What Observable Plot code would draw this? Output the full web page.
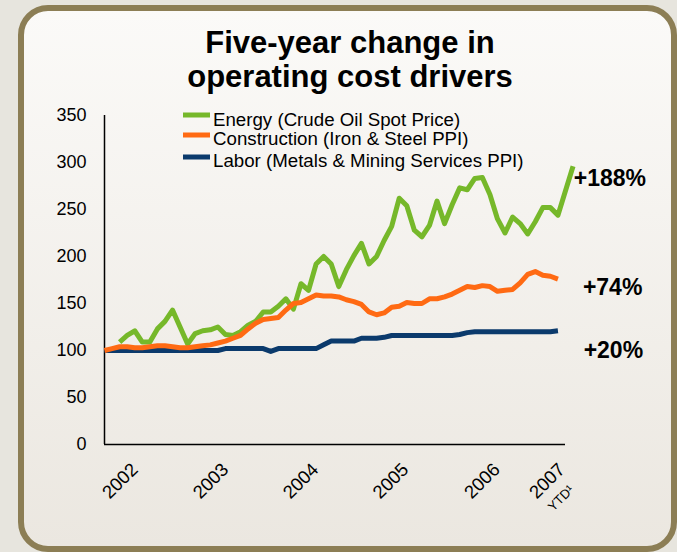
<!DOCTYPE html>
<html><head><meta charset="utf-8">
<script src="https://cdn.jsdelivr.net/npm/d3@7"></script>
<script src="https://cdn.jsdelivr.net/npm/@observablehq/plot@0.6"></script>
<style>
html,body{margin:0;padding:0;}
body{width:677px;height:552px;background:#e7e5de;position:relative;overflow:hidden;font-family:"Liberation Sans",Arial,sans-serif;}
#panel{position:absolute;left:18px;top:5px;width:647px;height:535px;border:6px solid #8c7e55;border-radius:30px;background:linear-gradient(#fbfaf8,#ebe7e0);}
#chart,#overlay{position:absolute;left:0;top:0;}
</style></head><body>
<div id="panel"></div>
<div id="chart"></div>
<svg id="overlay" width="677" height="552"></svg>
<script>
// Title and legend
const titleLines = ["Five-year change in", "operating cost drivers"];
const seriesNames = ["Energy (Crude Oil Spot Price)", "Construction (Iron & Steel PPI)", "Labor (Metals & Mining Services PPI)"];
const seriesColors = ["#76b82a", "#ff6a13", "#0b3a6c"];

// Month index 0 = start of 2002 series (monthly)
const energyStart = 2;
const energy = [109,116,121,109,109,123,131,143,125,107,118,121,122,125,117,116,120,127,131,141,141,147,155,144,171,164,192,200,192,168,186,201,214,192,200,217,232,262,254,228,221,233,259,235,255,273,271,283,284,266,240,225,242,235,224,237,252,252,244,270,296];
const construction = [100,102,104,104,103,103,104,105,105,104,103,103,104,105,106,108,110,113,116,123,129,133,134,135,143,150,151,155,159,158,158,157,154,152,149,141,138,140,146,147,151,150,150,155,155,157,160,164,168,167,169,168,163,164,165,172,181,184,180,179,176];
const labor = [100,100,100,100,100,100,100,100,100,100,100,100,100,100,100,100,102,102,102,102,102,102,99,102,102,102,102,102,102,106,110,110,110,110,113,113,113,114,116,116,116,116,116,116,116,116,116,117,119,120,120,120,120,120,120,120,120,120,120,120,121];

const yTicks = [0,50,100,150,200,250,300,350];
const yearLabels = ["2002","2003","2004","2005","2006","2007"];
const yearTickMonths = [4.0,16.0,27.9,39.8,51.9,60.5];
const ytdLabel = "YTD\u00B9";
const changeLabels = ["+188%","+74%","+20%"];
const changeLabelMonths = [62.1,63.3,63.4];
const changeLabelValues = [283,167,100];

const rows = [
  ...energy.map((v,i)=>({m:i+energyStart, v, s:seriesNames[0]})),
  ...labor.map((v,i)=>({m:i, v, s:seriesNames[2]})),
  ...construction.map((v,i)=>({m:i, v, s:seriesNames[1]}))
];

const chart = Plot.plot({
  width: 677, height: 552,
  marginLeft: 104, marginRight: 112, marginTop: 115, marginBottom: 108,
  style: {background: "transparent", color: "#000", fontFamily: "'Liberation Sans', Arial, sans-serif"},
  x: {domain: [0, 61], axis: null},
  y: {domain: [0, 350], axis: null},
  color: {domain: seriesNames, range: seriesColors},
  marks: [
    Plot.axisY({ticks: yTicks, tickSize: 0, tickPadding: 18, fontSize: 18, label: null, tickFormat: d=>String(d)}),
    Plot.ruleX([0], {stroke: "#000", strokeWidth: 1.5}),
    Plot.ruleY([0], {stroke: "#000", strokeWidth: 1.5}),
    Plot.line(rows, {x: "m", y: "v", z: "s", stroke: "s", strokeWidth: 5, strokeLinejoin: "round", strokeLinecap: "butt"}),
    Plot.text(yearLabels, {x: (d,i)=>yearTickMonths[i], y: ()=>0, text: d=>d, rotate: -45, textAnchor: "end", dy: 22, fontSize: 18.5, fill: "#000"}),
    Plot.text([ytdLabel], {x: ()=>yearTickMonths[5], y: ()=>0, text: d=>d, rotate: -45, textAnchor: "end", dx: 10, dy: 43, fontSize: 13, fill: "#000"}),
    Plot.text(changeLabels, {x: (d,i)=>changeLabelMonths[i], y: (d,i)=>changeLabelValues[i], text: d=>d, textAnchor: "start", fontSize: 23, fontWeight: "bold", fill: "#000"})
  ]
});
document.getElementById("chart").appendChild(chart);

const ov = d3.select("#overlay");
ov.selectAll("text.title").data(titleLines).join("text")
  .attr("class","title")
  .attr("x", 350).attr("y", (d,i)=>53 + i*34)
  .attr("text-anchor","middle")
  .attr("font-family","'Liberation Sans', Arial, sans-serif")
  .attr("font-weight","bold").attr("font-size", 31).attr("fill","#000")
  .text(d=>d);
const legSwatchY = [115, 135, 157];
const legTextY = [126, 145, 166.5];
const lg = ov.selectAll("g.leg").data(seriesNames).join("g").attr("class","leg");
lg.append("rect").attr("x",183).attr("width",27).attr("height",5)
  .attr("y",(d,i)=>legSwatchY[i]-2.5).attr("fill",(d,i)=>seriesColors[i]);
lg.append("text").attr("x",213).attr("y",(d,i)=>legTextY[i])
  .attr("font-family","'Liberation Sans', Arial, sans-serif")
  .attr("font-size",18.7).attr("fill","#000").text(d=>d);
</script>
</body></html>
